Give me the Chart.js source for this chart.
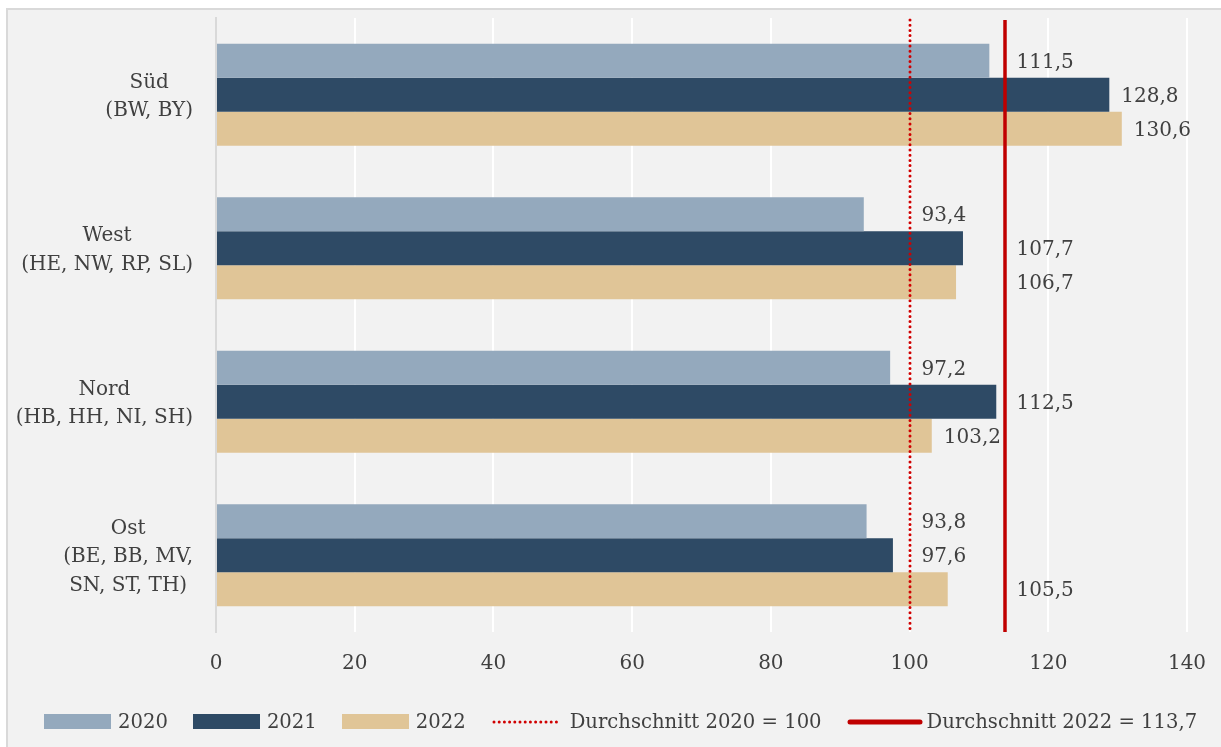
<!DOCTYPE html>
<html>
<head>
<meta charset="utf-8">
<script src="https://cdn.jsdelivr.net/npm/chart.js@4.4.1/dist/chart.umd.min.js"></script>
<style>
  html, body { margin: 0; padding: 0; background: #fff; width: 1221px; height: 747px; overflow: hidden; position: relative; }
  #frame { position: absolute; left: 6px; top: 8px; width: 1400px; height: 900px; background: #f2f2f2;
           border-left: 2px solid #d9d9d9; border-top: 2px solid #d9d9d9; }
  #wrap { position: absolute; left: 0; top: 0; width: 1221px; height: 747px; }
  #legend { position: absolute; left: 44px; top: 710px; display: flex; align-items: center;
            font-family: "DejaVu Serif", serif; font-size: 19.6px; color: #404040; white-space: nowrap; }
  #legend .item { display: flex; align-items: center; margin-right: 25px; }
  #legend .box { width: 67px; height: 15px; margin-right: 7px; }
</style>
</head>
<body>
<div id="frame"></div>
<div id="wrap"><canvas id="chart" width="1221" height="747"></canvas></div>
<div id="legend"></div>
<script>
// values
const regions = [['Süd', '(BW, BY)'], ['West', '(HE, NW, RP, SL)'], ['Nord', '(HB, HH, NI, SH)'], ['Ost', '(BE, BB, MV,', 'SN, ST, TH)']];
const years = ['2020', '2021', '2022'];
const values2020 = [111.5, 93.4, 97.2, 93.8];
const values2021 = [128.8, 107.7, 112.5, 97.6];
const values2022 = [130.6, 106.7, 103.2, 105.5];
const averageLabels = ['Durchschnitt 2020 = 100', 'Durchschnitt 2022 = 113,7'];
const averageValues = [100, 113.7];
const xTicks = [0, 20, 40, 60, 80, 100, 120, 140];

const colors = ['#94a9bd', '#2e4a65', '#e0c597'];
const lineColors = ['#d00000', '#c00000'];
const textColor = '#404040';
const fontFamily = '"DejaVu Serif", serif';
const fontSize = 20;

Chart.defaults.font.family = fontFamily;
Chart.defaults.font.size = fontSize;
Chart.defaults.color = textColor;

const fmt = v => String(v).replace('.', ',');

const barSets = [values2020, values2021, values2022].map((vals, i) => ({
  label: years[i],
  data: vals,
  backgroundColor: colors[i],
  borderWidth: 0
}));

// vertical average lines, placed with the x scale
const averageLines = {
  id: 'averageLines',
  afterDatasetsDraw(chart) {
    const ctx = chart.ctx;
    const xs = chart.scales.x;
    const { top, bottom } = chart.chartArea;
    ctx.save();
    averageValues.forEach((v, i) => {
      const px = Math.round(xs.getPixelForValue(v));
      ctx.beginPath();
      ctx.strokeStyle = lineColors[i];
      if (i === 0) {
        ctx.lineWidth = 3;
        ctx.lineCap = 'round';
        ctx.setLineDash([0, 5.2]);
      } else {
        ctx.lineWidth = 3.5;
        ctx.lineCap = 'butt';
        ctx.setLineDash([]);
      }
      ctx.moveTo(px, top + 2);
      ctx.lineTo(px, bottom);
      ctx.stroke();
    });
    ctx.restore();
  }
};

// category labels: right-aligned block, lines centred within it
const categoryLabels = {
  id: 'categoryLabels',
  afterDraw(chart) {
    const ctx = chart.ctx;
    const y = chart.scales.y;
    const right = chart.chartArea.left - 23;
    const lh = 28.5;
    ctx.save();
    ctx.font = fontSize + 'px ' + fontFamily;
    ctx.fillStyle = textColor;
    ctx.textAlign = 'center';
    ctx.textBaseline = 'middle';
    regions.forEach((lines, i) => {
      const maxW = Math.max(...lines.map(l => ctx.measureText(l).width));
      const cx = right - maxW / 2;
      const cy = y.getPixelForValue(i) + 2;
      lines.forEach((l, k) => {
        ctx.fillText(l, cx, cy + (k - (lines.length - 1) / 2) * lh);
      });
    });
    ctx.restore();
  }
};

// value labels to the right of the bars, pushed past the average lines
const valueLabels = {
  id: 'valueLabels',
  afterDatasetsDraw(chart) {
    const ctx = chart.ctx;
    const xs = chart.scales.x;
    const linePx = averageValues.map(v => xs.getPixelForValue(v)).sort((a, b) => a - b);
    ctx.save();
    ctx.font = fontSize + 'px ' + fontFamily;
    ctx.fillStyle = textColor;
    ctx.textAlign = 'left';
    ctx.textBaseline = 'middle';
    chart.data.datasets.forEach((ds, di) => {
      chart.getDatasetMeta(di).data.forEach((bar, j) => {
        const txt = fmt(ds.data[j]);
        const w = ctx.measureText(txt).width;
        let x = bar.x + 12;
        linePx.forEach(p => {
          if (x < p + 4 && x + w > p - 2) x = p + 12;
        });
        ctx.fillText(txt, x, bar.y + 2);
      });
    });
    ctx.restore();
  }
};

new Chart(document.getElementById('chart'), {
  type: 'bar',
  data: {
    labels: regions.map(r => r.join(' ')),
    datasets: barSets
  },
  options: {
    indexAxis: 'y',
    responsive: false,
    animation: false,
    barPercentage: 1,
    categoryPercentage: 0.665,
    layout: { padding: { left: 0, top: 18, right: 34, bottom: 55 } },
    plugins: {
      legend: { display: false },
      tooltip: { enabled: false }
    },
    scales: {
      x: {
        type: 'linear',
        min: 0,
        max: 140,
        afterBuildTicks: s => { s.ticks = xTicks.map(v => ({ value: v })); },
        ticks: { padding: 20, color: textColor },
        grid: { color: '#ffffff', lineWidth: 2, drawTicks: false },
        border: { display: false },
        afterFit: s => { s.height = 60; s.paddingLeft = 0; s.paddingRight = 0; }
      },
      y: {
        type: 'category',
        ticks: { display: false },
        grid: { display: false, drawTicks: false },
        border: { display: true, color: '#d9d9d9', width: 2 },
        afterFit: s => { s.width = 216; }
      }
    }
  },
  plugins: [averageLines, categoryLabels, valueLabels]
});

// legend
const legend = document.getElementById('legend');
years.forEach((y, i) => {
  const it = document.createElement('div');
  it.className = 'item';
  it.innerHTML = '<div class="box" style="background:' + colors[i] + '"></div><span>' + y + '</span>';
  legend.appendChild(it);
});
averageLabels.forEach((t, i) => {
  const it = document.createElement('div');
  it.className = 'item';
  const svg = i === 0
    ? '<svg width="70" height="10" style="margin-right:9px"><line x1="3" y1="5" x2="68" y2="5" stroke="' + lineColors[0] + '" stroke-width="3" stroke-dasharray="0 5.2" stroke-linecap="round"/></svg>'
    : '<svg width="76" height="10" style="margin-right:4px"><line x1="3" y1="5" x2="73" y2="5" stroke="' + lineColors[1] + '" stroke-width="5" stroke-linecap="round"/></svg>';
  it.innerHTML = svg + '<span>' + t + '</span>';
  legend.appendChild(it);
});
</script>
</body>
</html>
